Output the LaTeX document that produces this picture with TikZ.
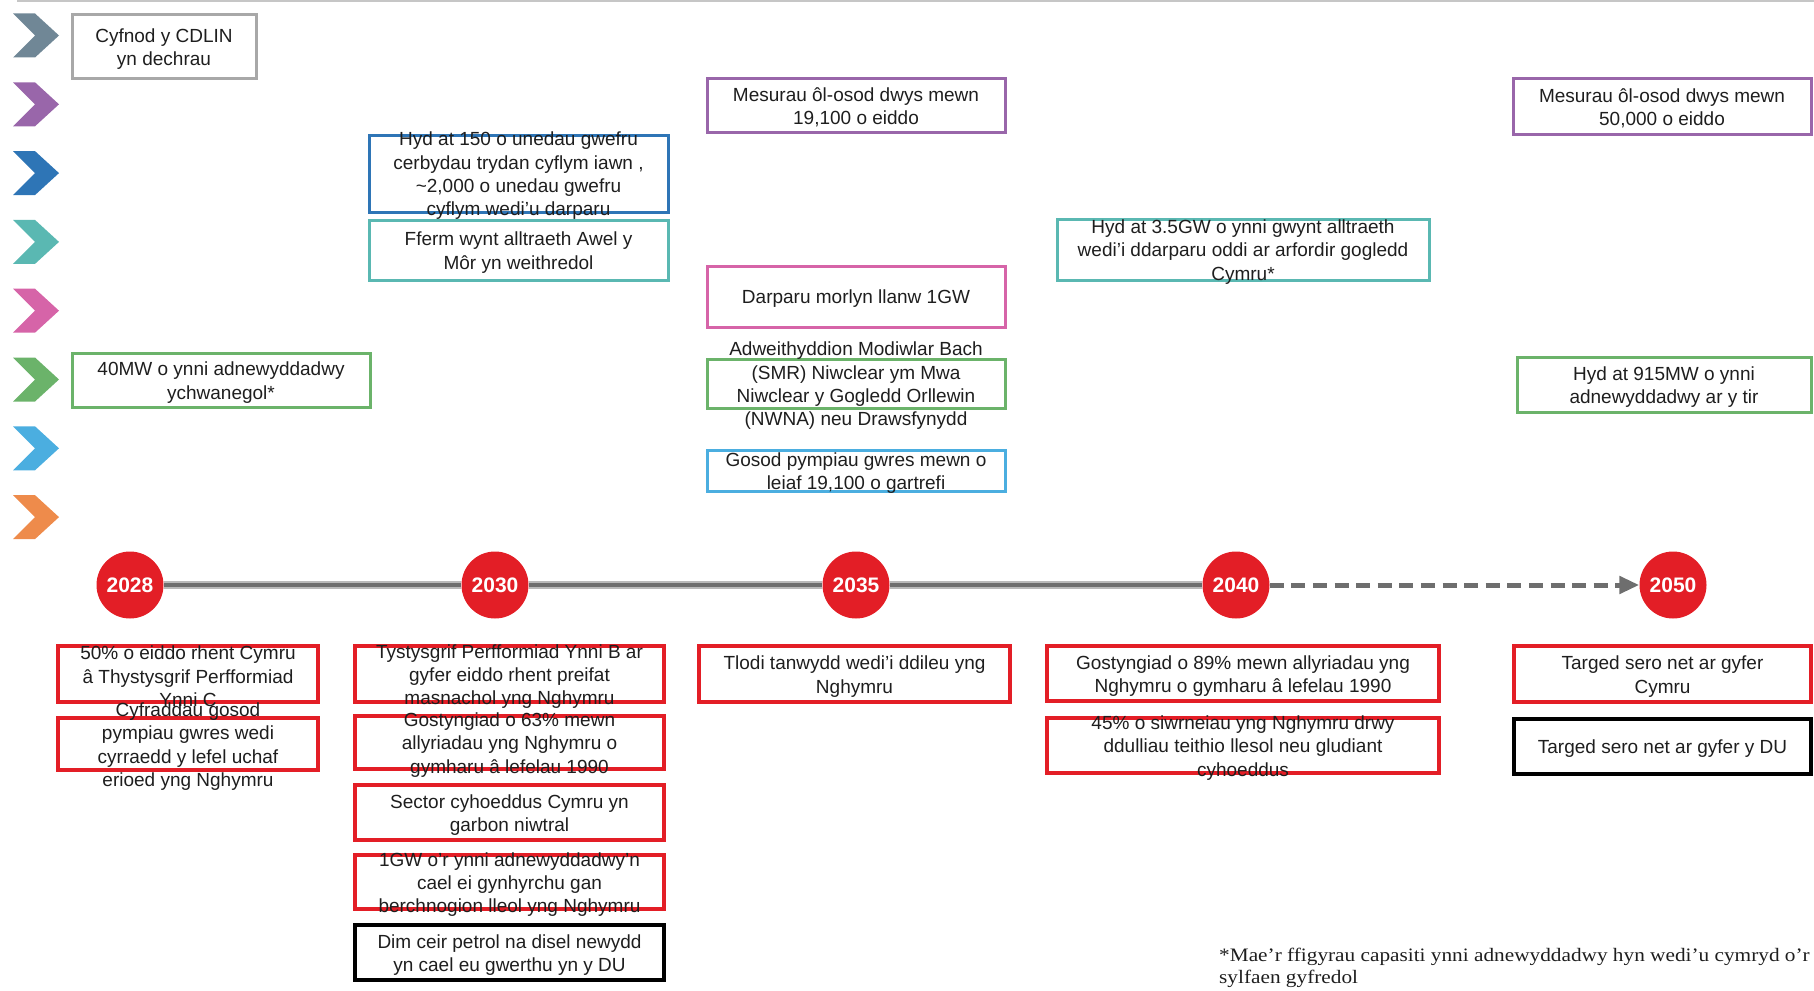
\documentclass[tikz,border=0pt]{standalone}
\usepackage{fontspec}
\setmainfont{Liberation Sans}
\newfontfamily\notefont{Liberation Serif}
\usetikzlibrary{arrows.meta}

\definecolor{chgray}{HTML}{708796}
\definecolor{chpurple}{HTML}{9966AA}
\definecolor{chblue}{HTML}{2E75B6}
\definecolor{chteal}{HTML}{5AB8B2}
\definecolor{chpink}{HTML}{D664A8}
\definecolor{chgreen}{HTML}{6BB36A}
\definecolor{chlblue}{HTML}{4BAEE0}
\definecolor{chorange}{HTML}{EE8B4B}
\definecolor{bdgray}{HTML}{A8A8A8}
\definecolor{tlred}{HTML}{E31E26}
\definecolor{tlline}{HTML}{6E6E6E}
\definecolor{txt}{HTML}{1E1E1E}

% box with outer corners (x0,y0)-(x1,y1) and centred text
\newcommand{\tlbox}[7]{%
  \node[tbox, #2, minimum width={#5-#3}, minimum height={#6-#4}] (#1) at ({(#3+#5)/2},{(#4+#6)/2}) {};
  \node[boxtext] (#1-t) at (#1.center) {#7};}
% legend chevron centred at height #1
\newcommand{\tlchev}[2]{%
  \fill[#2] (13,#1-22) -- (35,#1-22) -- (59,#1) -- (35,#1+22) -- (13,#1+22) -- (35,#1) -- cycle;}

\begin{document}
\begin{tikzpicture}[x=1pt,y=-1pt,
  tbox/.style={draw, line width=3pt, inner sep=0pt},
  redbox/.style={draw=tlred, line width=3.5pt},
  blackbox/.style={draw=black, line width=4pt},
  boxtext/.style={align=center, inner sep=0pt, yshift=-2.5pt, text=txt, font=\fontsize{19}{23.3}\selectfont},
  year/.style={circle, fill=tlred, minimum size=67pt, inner sep=0pt, text=white, font=\fontsize{21}{21}\selectfont\bfseries},
  halo/.style={line width=7.5pt, draw=gray!55},
  core/.style={line width=4pt, draw=tlline}]
\useasboundingbox (0,0) rectangle (1814,990);

% thin rule along the top
\draw[gray!45, line width=1.5pt] (17,1) -- (1814,1);

% legend chevrons
\tlchev{35.5}{chgray}
\tlchev{104.3}{chpurple}
\tlchev{173.1}{chblue}
\tlchev{241.9}{chteal}
\tlchev{310.7}{chpink}
\tlchev{379.5}{chgreen}
\tlchev{448.3}{chlblue}
\tlchev{517.1}{chorange}

% milestones above the timeline
\tlbox{cdlin}{draw=bdgray}{72}{15}{256}{78}{Cyfnod y CDLIN\\yn dechrau}
\tlbox{mw40}{draw=chgreen}{72}{353}{370}{407}{40MW o ynni adnewyddadwy\\ychwanegol*}
\tlbox{evch}{draw=chblue}{369}{135}{668}{212}{Hyd at 150 o unedau gwefru\\cerbydau trydan cyflym iawn ,\\\textasciitilde2,000 o unedau gwefru\\cyflym wedi’u darparu}
\tlbox{awel}{draw=chteal}{369}{220}{668}{280}{Fferm wynt alltraeth Awel y\\Môr yn weithredol}
\tlbox{retroa}{draw=chpurple}{707}{78}{1005}{132}{Mesurau ôl-osod dwys mewn\\19,100 o eiddo}
\tlbox{tidal}{draw=chpink}{707}{266}{1005}{327}{Darparu morlyn llanw 1GW}
\tlbox{smr}{draw=chgreen}{707}{359}{1005}{408}{Adweithyddion Modiwlar Bach\\(SMR) Niwclear ym Mwa\\Niwclear y Gogledd Orllewin\\(NWNA) neu Drawsfynydd}
\tlbox{heat}{draw=chlblue}{707}{450}{1005}{491}{Gosod pympiau gwres mewn o\\leiaf 19,100 o gartrefi}
\tlbox{offsh}{draw=chteal}{1057}{219}{1429}{280}{Hyd at 3.5GW o ynni gwynt alltraeth\\wedi’i ddarparu oddi ar arfordir gogledd\\Cymru*}
\tlbox{retrob}{draw=chpurple}{1513}{78}{1811}{134}{Mesurau ôl-osod dwys mewn\\50,000 o eiddo}
\tlbox{onsh}{draw=chgreen}{1517}{357}{1811}{412}{Hyd at 915MW o ynni\\adnewyddadwy ar y tir}

% timeline
\node[year] (y2028) at (130,585) {2028};
\node[year] (y2030) at (495,585) {2030};
\node[year] (y2035) at (856,585) {2035};
\node[year] (y2040) at (1236,585) {2040};
\node[year] (y2050) at (1673,585) {2050};
\foreach \a/\b in {y2028/y2030, y2030/y2035, y2035/y2040}{
  \draw[halo] (\a) -- (\b);
  \draw[core] (\a) -- (\b);
}
\draw[tlline, line width=5pt, dash pattern=on 14pt off 7.6pt,
  -{Triangle[length=20pt,width=17pt]}] (y2040) -- (y2050);

% targets below the timeline
\tlbox{r28a}{redbox}{58}{646}{318}{702}{50\% o eiddo rhent Cymru\\â Thystysgrif Perfformiad\\Ynni C}
\tlbox{r28b}{redbox}{58}{718}{318}{770}{Cyfraddau gosod\\pympiau gwres wedi\\cyrraedd y lefel uchaf\\erioed yng Nghymru}
\tlbox{r30a}{redbox}{355}{646}{664}{702}{Tystysgrif Perfformiad Ynni B ar\\gyfer eiddo rhent preifat\\masnachol yng Nghymru}
\tlbox{r30b}{redbox}{355}{716}{664}{769}{Gostyngiad o 63\% mewn\\allyriadau yng Nghymru o\\gymharu â lefelau 1990}
\tlbox{r30c}{redbox}{355}{785}{664}{840}{Sector cyhoeddus Cymru yn\\garbon niwtral}
\tlbox{r30d}{redbox}{355}{855}{664}{909}{1GW o’r ynni adnewyddadwy’n\\cael ei gynhyrchu gan\\berchnogion lleol yng Nghymru}
\tlbox{k30e}{blackbox}{355}{925}{664}{980}{Dim ceir petrol na disel newydd\\yn cael eu gwerthu yn y DU}
\tlbox{r35a}{redbox}{699}{646}{1010}{702}{Tlodi tanwydd wedi’i ddileu yng\\Nghymru}
\tlbox{r40a}{redbox}{1047}{646}{1439}{701}{Gostyngiad o 89\% mewn allyriadau yng\\Nghymru o gymharu â lefelau 1990}
\tlbox{r40b}{redbox}{1047}{718}{1439}{773}{45\% o siwrneiau yng Nghymru drwy\\ddulliau teithio llesol neu gludiant\\cyhoeddus}
\tlbox{r50a}{redbox}{1514}{646}{1811}{702}{Targed sero net ar gyfer\\Cymru}
\tlbox{k50b}{blackbox}{1514}{719}{1811}{774}{Targed sero net ar gyfer y DU}

% footnote
\node[anchor=base west, inner sep=0pt, text=txt, font=\notefont\fontsize{19}{22.5}\selectfont] (note) at (1219,961)
  {\scalebox{1.12}[1]{\begin{tabular}[t]{@{}l@{}}*Mae’r ffigyrau capasiti ynni adnewyddadwy hyn wedi’u cymryd o’r\\sylfaen gyfredol\end{tabular}}};
\end{tikzpicture}
\end{document}
